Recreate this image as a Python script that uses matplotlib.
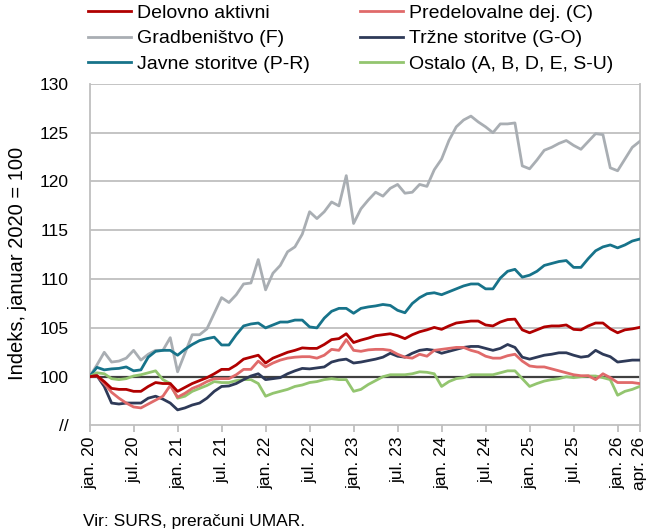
import matplotlib
matplotlib.use("Agg")
import matplotlib.pyplot as plt
import numpy as np

plt.rcParams['font.family'] = ['Liberation Sans', 'DejaVu Sans']

# months jan 2020 .. apr 2026
months = np.arange(76)

delovno = [100, 100.1, 99.5, 98.8, 98.7, 98.7, 98.5, 98.5, 99.0, 99.4, 99.3, 99.3,
           98.5, 98.9, 99.3, 99.6, 99.9, 100.3, 100.75, 100.75, 101.2, 101.8, 102.0, 102.2,
           101.4, 101.9, 102.2, 102.5, 102.7, 102.95, 102.9, 102.9, 103.3, 103.8, 103.9, 104.4,
           103.5, 103.75, 103.95, 104.2, 104.3, 104.4, 104.2, 103.9, 104.3, 104.6, 104.8, 105.05,
           104.85, 105.2, 105.5, 105.6, 105.7, 105.7, 105.3, 105.2, 105.6, 105.85, 105.9, 104.8,
           104.5, 104.8, 105.1, 105.2, 105.2, 105.3, 104.85, 104.8, 105.2, 105.5, 105.5, 104.9,
           104.5, 104.8, 104.9, 105.05]

predelovalne = [100, 100.1, 99.3, 98.4, 97.8, 97.3, 96.9, 96.8, 97.2, 97.6, 98.0, 99.1,
                97.9, 98.3, 98.8, 99.1, 99.5, 99.8, 99.8, 99.8, 100.2, 100.75, 100.75, 101.6,
                101.0, 101.4, 101.7, 101.9, 102.0, 102.05, 102.05, 101.9, 102.2, 102.8, 102.7, 103.8,
                102.7, 102.6, 102.75, 102.8, 102.8, 102.7, 102.3, 102.0, 101.9, 102.3, 102.1, 102.7,
                102.8, 102.9, 103.0, 103.0, 102.7, 102.5, 102.1, 101.9, 101.9, 102.15, 102.3, 101.6,
                101.1, 101.0, 101.0, 100.8, 100.6, 100.4, 100.2, 100.1, 100.1, 99.7, 100.3, 99.9,
                99.4, 99.4, 99.4, 99.3]

gradbenistvo = [100, 101.2, 102.5, 101.5, 101.6, 101.9, 102.7, 101.7, 102.3, 102.7, 102.7, 104.0,
                100.5, 102.4, 104.3, 104.3, 104.9, 106.5, 108.1, 107.6, 108.4, 109.5, 109.6, 112.0,
                108.9, 110.6, 111.4, 112.8, 113.3, 114.6, 116.9, 116.2, 116.9, 117.9, 117.5, 120.6,
                115.7, 117.2, 118.1, 118.9, 118.5, 119.3, 119.7, 118.8, 118.9, 119.7, 119.5, 121.2,
                122.3, 124.2, 125.6, 126.3, 126.7, 126.1, 125.6, 125.0, 125.9, 125.9, 126.0, 121.6,
                121.3, 122.2, 123.2, 123.5, 123.9, 124.2, 123.7, 123.3, 124.1, 124.9, 124.8, 121.4,
                121.1, 122.3, 123.5, 124.1]

trzne = [100, 100.1, 99.0, 97.3, 97.2, 97.3, 97.3, 97.3, 97.8, 98.0, 97.7, 97.3,
         96.6, 96.8, 97.1, 97.3, 97.8, 98.5, 99.0, 99.05, 99.3, 99.7, 100.07, 100.3,
         99.7, 99.8, 99.9, 100.3, 100.6, 100.85, 100.8, 100.9, 101.0, 101.5, 101.7, 101.8,
         101.4, 101.5, 101.65, 101.8, 102.0, 102.4, 102.1, 102.0, 102.4, 102.7, 102.8, 102.7,
         102.4, 102.6, 102.8, 103.0, 103.1, 103.1, 102.9, 102.7, 102.9, 103.3, 103.0, 102.0,
         101.8, 102.0, 102.2, 102.3, 102.45, 102.45, 102.2, 102.0, 102.1, 102.7, 102.3, 102.05,
         101.5, 101.6, 101.7, 101.7]

javne = [100, 100.96, 100.7, 100.8, 100.85, 101.0, 100.6, 100.7, 102.0, 102.6, 102.7, 102.7,
         102.2, 102.8, 103.3, 103.7, 103.9, 104.05, 103.25, 103.25, 104.3, 105.2, 105.4, 105.5,
         105.0, 105.3, 105.6, 105.6, 105.8, 105.8, 105.1, 105.0, 106.0, 106.7, 107.0, 107.0,
         106.5, 107.0, 107.15, 107.25, 107.4, 107.3, 106.8, 106.55, 107.5, 108.1, 108.5, 108.6,
         108.4, 108.7, 109.0, 109.3, 109.5, 109.5, 109.0, 109.0, 110.1, 110.8, 111.0, 110.2,
         110.4, 110.8, 111.4, 111.6, 111.8, 111.9, 111.2, 111.2, 112.1, 112.9, 113.3, 113.5,
         113.2, 113.5, 113.9, 114.1]

ostalo = [100, 100.4, 100.3, 99.8, 99.7, 99.8, 100.07, 100.2, 100.4, 100.6, 99.7, 99.3,
          97.8, 98.0, 98.5, 98.8, 99.1, 99.5, 99.4, 99.4, 99.6, 99.7, 99.7, 99.3,
          98.0, 98.3, 98.5, 98.7, 99.0, 99.15, 99.4, 99.5, 99.7, 99.8, 99.7, 99.7,
          98.5, 98.7, 99.2, 99.6, 100.0, 100.2, 100.2, 100.2, 100.3, 100.5, 100.45, 100.3,
          99.0, 99.5, 99.8, 99.9, 100.2, 100.2, 100.2, 100.2, 100.4, 100.6, 100.6, 99.8,
          99.0, 99.3, 99.55, 99.7, 99.8, 100.0, 99.9, 100.0, 100.07, 100.07, 99.9, 99.7,
          98.1, 98.5, 98.7, 99.0]

series = [
    ("Delovno aktivni", delovno, "#b00000"),
    ("Gradbeništvo (F)", gradbenistvo, "#a9aeb3"),
    ("Javne storitve (P-R)", javne, "#17738a"),
    ("Predelovalne dej. (C)", predelovalne, "#e06a6a"),
    ("Tržne storitve (G-O)", trzne, "#2e3a58"),
    ("Ostalo (A, B, D, E, S-U)", ostalo, "#93c56f"),
]

tick_pos = list(range(0, 73, 6)) + [75]
tick_lab = []
for p in tick_pos[:-1]:
    yr = 20 + p // 12
    tick_lab.append(("jan. " if p % 12 == 0 else "jul. ") + str(yr))
tick_lab.append("apr. 26")

fig = plt.figure(figsize=(6.51, 5.32), dpi=100)
ax = fig.add_axes([0.1376, 0.2002, 0.8449, 0.6421])

for y in range(105, 131, 5):
    ax.axhline(y, color='#bfbfbf', linewidth=1.3, zorder=1)

# draw series, grey/teal underneath
order = [1, 2, 5, 4, 3, 0]
lines = {}
for k in order:
    name, vals, col = series[k]
    ln, = ax.plot(months, vals, color=col, linewidth=2.0, label=name, zorder=3)
    lines[k] = ln

ax.axhline(100, color='#404040', linewidth=1.6, zorder=2)

ax.set_xlim(0, 75)
ax.set_ylim(95, 130)
ax.set_yticks(range(95, 131, 5))
ax.set_yticklabels(['//'] + [str(v) for v in range(100, 131, 5)])
ax.set_xticks(tick_pos)
ax.set_xticklabels(tick_lab, rotation=90)
ax.tick_params(axis='y', length=0, labelsize=12.5, pad=15)
ax.tick_params(axis='x', length=5, color='#bfbfbf', width=1.3, labelsize=12.5, pad=3)

for s in ['left', 'right', 'bottom']:
    ax.spines[s].set_color('#bfbfbf')
    ax.spines[s].set_linewidth(1.3)
ax.spines['top'].set_visible(False)

ax.set_ylabel("Indeks, januar 2020 = 100", fontsize=14.5)
ax.yaxis.set_label_coords(-0.114, 0.474)

leg_kw = dict(loc='upper left', frameon=False, fontsize=14, borderpad=0,
              borderaxespad=0, handlelength=2.2, handletextpad=0.3,
              labelspacing=0.42)
fig.legend([lines[k] for k in range(3)], [series[k][0] for k in range(3)],
           bbox_to_anchor=(88 / 651, 1 - 4 / 532), **leg_kw)
fig.legend([lines[k] for k in range(3, 6)], [series[k][0] for k in range(3, 6)],
           bbox_to_anchor=(360 / 651, 1 - 4 / 532), **leg_kw)

fig.text(83 / 651, 0.011, "Vir: SURS, preračuni UMAR.", fontsize=12.5)

fig.savefig("out.png", dpi=100)
